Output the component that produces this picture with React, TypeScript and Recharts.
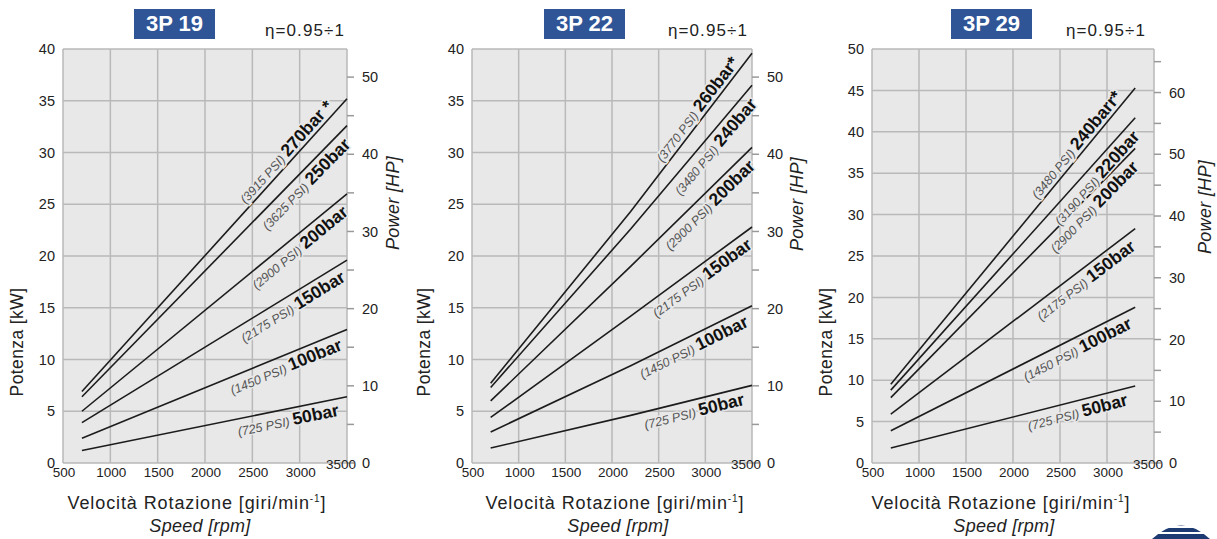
import React from 'react'
import { LineChart, Line, XAxis, YAxis, CartesianGrid } from 'recharts'

// ── Data ─────────────────────────────────────────────────────────────────────

const KW_PER_HP = 0.7457
const SPEED_TICKS = [500, 1000, 1500, 2000, 2500, 3000, 3500]

// 3P 19
const SPEED_19 = [700, 3500]
const BAR_19 = ['270bar *', '250bar', '200bar', '150bar', '100bar', '50bar']
const PSI_19 = ['(3915 PSI)', '(3625 PSI)', '(2900 PSI)', '(2175 PSI)', '(1450 PSI)', '(725 PSI)']
const KW_19 = [
  [6.9, 35.2],
  [6.4, 32.6],
  [5.0, 26.0],
  [3.9, 19.6],
  [2.4, 12.9],
  [1.2, 6.4],
]
const KW_TICKS_19 = [0, 5, 10, 15, 20, 25, 30, 35, 40]
const HP_TICKS_19 = [0, 5, 10, 15, 20, 25, 30, 35, 40, 45, 50]

// 3P 22
const SPEED_22 = [700, 2200, 3500]
const BAR_22 = ['260bar*', '240bar', '200bar', '150bar', '100bar', '50bar']
const PSI_22 = ['(3770 PSI)', '(3480 PSI)', '(2900 PSI)', '(2175 PSI)', '(1450 PSI)', '(725 PSI)']
const KW_22 = [
  [7.7, 24.3, 39.6],
  [7.3, 22.6, 36.5],
  [6.0, 19.0, 30.5],
  [4.4, 14.2, 22.8],
  [3.0, 9.4, 15.2],
  [1.45, 4.6, 7.5],
]
const KW_TICKS_22 = [0, 5, 10, 15, 20, 25, 30, 35, 40]
const HP_TICKS_22 = [0, 5, 10, 15, 20, 25, 30, 35, 40, 45, 50]

// 3P 29
const SPEED_29 = [700, 3300]
const BAR_29 = ['240barr*', '220bar', '200bar', '150bar', '100bar', '50bar']
const PSI_29 = ['(3480 PSI)', '(3190 PSI)', '(2900 PSI)', '(2175 PSI)', '(1450 PSI)', '(725 PSI)']
const KW_29 = [
  [9.5, 45.3],
  [8.8, 41.7],
  [7.9, 38.0],
  [5.9, 28.3],
  [3.9, 18.8],
  [1.8, 9.3],
]
const KW_TICKS_29 = [0, 5, 10, 15, 20, 25, 30, 35, 40, 45, 50]
const HP_TICKS_29 = [0, 5, 10, 15, 20, 25, 30, 35, 40, 45, 50, 55, 60, 65]

// ─────────────────────────────────────────────────────────────────────────────

const FONT = "'Liberation Sans', Arial, sans-serif"
const PLOT_BG = '#e8e8e8'
const GRID = '#b9b9b9'
const INK = '#1c1c1c'

interface PanelProps {
  left: number
  width: number
  margin: { top: number; right: number; bottom: number; left: number }
  title: string
  speeds: number[]
  bars: string[]
  psi: string[]
  kw: number[][]
  kwTicks: number[]
  hpTicks: number[]
  titleX: number
  etaX: number
  kwTitleX: number
  hpTitleX: number
  hpTitleY: number
  speedTitleX: number
}

// pressure label rotated along the end of each curve; top curve gets it above
const makeDot = (bar: string, psi: string, above: boolean) => (props: any) => {
  const { cx, cy, index, points } = props
  const n = points?.length ?? 0
  if (index !== n - 1 || n < 2) return <g key={`d-${index}`} />
  const p0 = points[n - 2]
  const p1 = points[n - 1]
  const ang = (Math.atan2(p1.y - p0.y, p1.x - p0.x) * 180) / Math.PI
  return (
    <text
      key={`lbl-${index}`}
      transform={`translate(${cx},${cy}) rotate(${ang})`}
      x={above ? -15 : -11}
      y={above ? -4 : 17}
      textAnchor="end"
      fontFamily={FONT}
      stroke={PLOT_BG}
      strokeWidth={3}
      paintOrder="stroke"
    >
      <tspan fontStyle="italic" fontSize={12.5} fill="#555">{psi} </tspan>
      <tspan fontSize={17.5} fontWeight="bold" fill="#111">{bar}</tspan>
    </text>
  )
}

const SpeedTick = (props: any) => {
  const { x, y, payload } = props
  const last = payload.value === 3500
  return (
    <text
      x={x + (last ? -6 : 1)}
      y={y + (last ? -7 : 1)}
      dy="0.71em"
      textAnchor="middle"
      fontFamily={FONT}
      fontSize={13.5}
      fill="#222"
    >
      {payload.value}
    </text>
  )
}

function Label({ x, y, size, italic, rotate, spacing = 0, children }: any) {
  return (
    <div
      style={{
        position: 'absolute',
        left: x,
        top: y,
        transform: `translate(-50%, -50%)${rotate ? ' rotate(-90deg)' : ''}`,
        whiteSpace: 'nowrap',
        fontFamily: FONT,
        fontSize: size,
        fontStyle: italic ? 'italic' : 'normal',
        letterSpacing: spacing,
        color: '#222',
        lineHeight: 1,
      }}
    >
      {children}
    </div>
  )
}

function Panel(p: PanelProps) {
  const rows = p.speeds.map((s, j) => {
    const row: Record<string, number> = { speed: s }
    p.kw.forEach((vals, i) => (row[`s${i}`] = vals[j]))
    return row
  })
  const kwMax = p.kwTicks[p.kwTicks.length - 1]

  return (
    <>
      <div style={{ position: 'absolute', left: p.left, top: 0 }}>
        <LineChart width={p.width} height={539} data={rows} margin={p.margin}>
          <CartesianGrid stroke={GRID} strokeWidth={1.5} fill={PLOT_BG} fillOpacity={1} />
          <XAxis
            dataKey="speed"
            type="number"
            domain={[500, 3500]}
            ticks={SPEED_TICKS}
            axisLine={false}
            tickLine={false}
            tickSize={1}
            tickMargin={2}
            height={30}
            tick={<SpeedTick />}
            interval={0}
          />
          <YAxis
            type="number"
            domain={[0, kwMax]}
            ticks={p.kwTicks}
            axisLine={false}
            tickLine={false}
            width={40}
            interval={0}
            tick={{ fontFamily: FONT, fontSize: 14.5, fill: '#222' }}
          />
          <YAxis
            yAxisId="hp"
            orientation="right"
            type="number"
            domain={[0, kwMax / KW_PER_HP]}
            allowDataOverflow
            ticks={p.hpTicks}
            interval={0}
            axisLine={false}
            tickSize={7}
            tickMargin={8}
            tickLine={{ stroke: '#999', strokeWidth: 1.5 }}
            tickFormatter={(v: number) => (v % 10 === 0 ? String(v) : '')}
            width={40}
            tick={{ fontFamily: FONT, fontSize: 14.5, fill: '#222' }}
          />
          {p.bars.map((bar, i) => (
            <Line
              key={bar}
              dataKey={`s${i}`}
              type="linear"
              stroke={INK}
              strokeWidth={1.6}
              dot={makeDot(bar, p.psi[i], i === 0)}
              activeDot={false}
              isAnimationActive={false}
            />
          ))}
        </LineChart>
      </div>

      <div
        style={{
          position: 'absolute',
          left: p.titleX,
          top: 9,
          width: 81,
          height: 30,
          background: '#2f5597',
          color: '#fff',
          fontFamily: "'Liberation Sans Narrow', 'Liberation Sans', Arial, sans-serif",
          fontWeight: 'bold',
          fontSize: 22,
          lineHeight: '30px',
          textAlign: 'center',
        }}
      >
        {p.title}
      </div>
      <Label x={p.etaX} y={30} size={17} spacing={1.1}>
        η=0.95÷1
      </Label>
      <Label x={p.kwTitleX} y={342} size={17.5} spacing={0.4} rotate>
        Potenza [kW]
      </Label>
      <Label x={p.hpTitleX} y={p.hpTitleY} size={18} spacing={0.3} italic rotate>
        Power [HP]
      </Label>
      <Label x={p.speedTitleX} y={503} size={18} spacing={0.9}>
        Velocità Rotazione [giri/min<sup style={{ fontSize: 10 }}>-1</sup>]
      </Label>
      <Label x={p.speedTitleX + 3} y={526} size={18} spacing={0.3} italic>
        Speed [rpm]
      </Label>
    </>
  )
}

export default function App() {
  return (
    <div
      style={{
        position: 'absolute',
        left: 0,
        top: 0,
        width: 1217,
        height: 539,
        background: '#fff',
        overflow: 'hidden',
      }}
    >
      <Panel
        left={0}
        width={400}
        margin={{ top: 49, right: 13, bottom: 46, left: 23 }}
        title="3P 19"
        speeds={SPEED_19}
        bars={BAR_19}
        psi={PSI_19}
        kw={KW_19}
        kwTicks={KW_TICKS_19}
        hpTicks={HP_TICKS_19}
        titleX={134}
        etaX={305}
        kwTitleX={18}
        hpTitleX={393}
        hpTitleY={203}
        speedTitleX={197}
      />
      <Panel
        left={400}
        width={410}
        margin={{ top: 49, right: 18, bottom: 46, left: 32 }}
        title="3P 22"
        speeds={SPEED_22}
        bars={BAR_22}
        psi={PSI_22}
        kw={KW_22}
        kwTicks={KW_TICKS_22}
        hpTicks={HP_TICKS_22}
        titleX={544}
        etaX={708}
        kwTitleX={425}
        hpTitleX={797}
        hpTitleY={204}
        speedTitleX={615}
      />
      <Panel
        left={810}
        width={407}
        margin={{ top: 49, right: 23, bottom: 46, left: 22 }}
        title="3P 29"
        speeds={SPEED_29}
        bars={BAR_29}
        psi={PSI_29}
        kw={KW_29}
        kwTicks={KW_TICKS_29}
        hpTicks={HP_TICKS_29}
        titleX={951}
        etaX={1106}
        kwTitleX={827}
        hpTitleX={1205}
        hpTitleY={207}
        speedTitleX={1001}
      />
      <svg style={{ position: 'absolute', left: 1150, top: 517 }} width={62} height={22}>
        <path d="M2,22 Q31,-5 60,22 Z" fill="#1d3a73" />
        <rect x={0} y={9} width={62} height={2} fill="#fff" />
        <rect x={0} y={15} width={62} height={2} fill="#fff" />
      </svg>
    </div>
  )
}
